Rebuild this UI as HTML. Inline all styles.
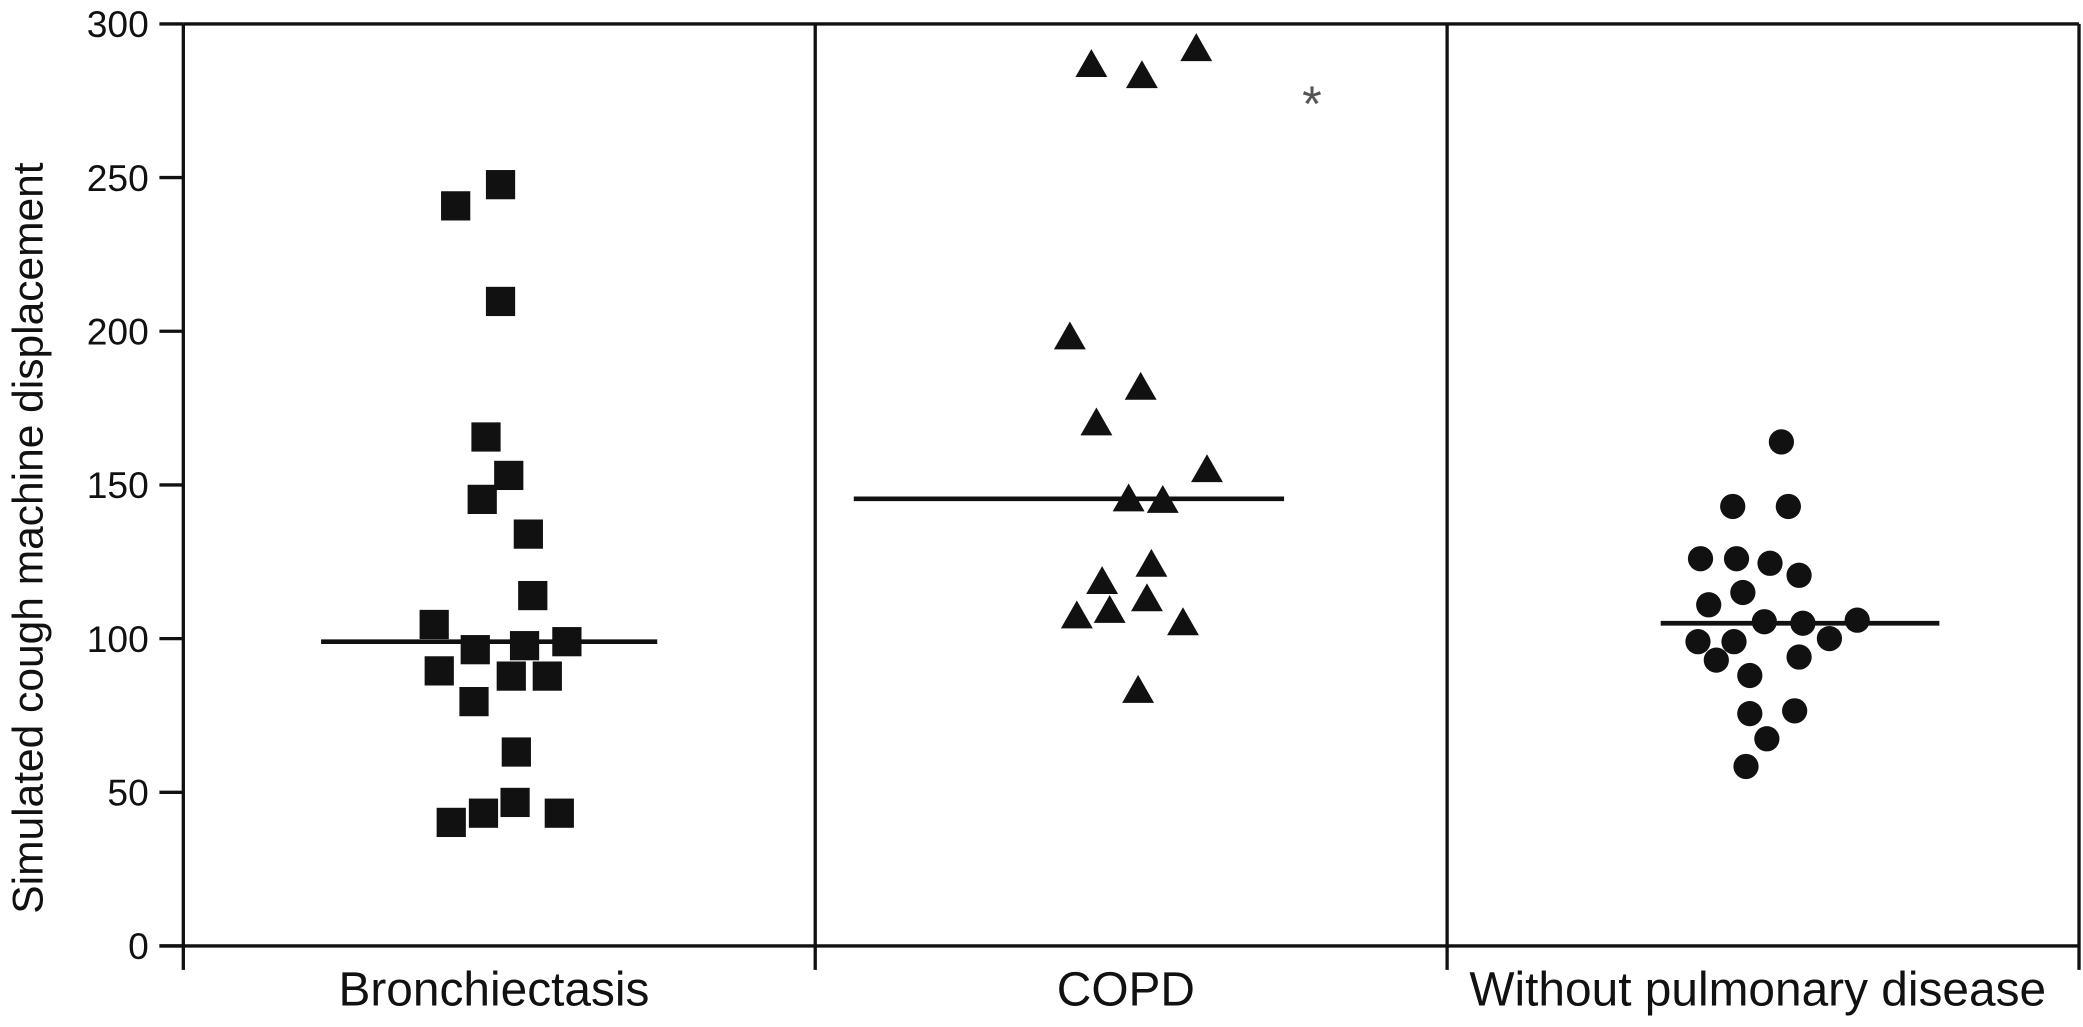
<!DOCTYPE html>
<html><head><meta charset="utf-8"><style>
html,body{margin:0;padding:0;background:#fff;}
svg{display:block;font-family:"Liberation Sans",sans-serif;}
</style></head><body>
<svg id="chart" width="2083" height="1027" viewBox="0 0 1568 773" preserveAspectRatio="none" xmlns="http://www.w3.org/2000/svg"></svg>
<script>
const categories = ["Bronchiectasis", "COPD", "Without pulmonary disease"];
const yTicks = [0, 50, 100, 150, 200, 250, 300];
const bronchValues = [240.8,247.7,209.7,165.6,153.1,145.3,134,114,104.6,96.4,97.7,99,89.5,87.8,87.8,79.5,63.1,40.2,43.2,46.7,43.2];
const bronchJitter = [-0.069,0.002,0.002,-0.021,0.015,-0.027,0.046,0.053,-0.103,-0.038,0.040,0.107,-0.095,0.019,0.076,-0.040,0.027,-0.076,-0.025,0.025,0.095];
const copdValues = [286.6,283,291.8,198,181.6,170,154.8,145.3,144.8,124,118.4,107.2,109,112.8,105,83];
const copdJitter = [-0.063,0.017,0.103,-0.097,0.015,-0.055,0.120,-0.004,0.050,0.032,-0.046,-0.086,-0.034,0.025,0.082,0.011];
const copdOutlier = [275.4];
const copdOutlierJitter = [0.286];
const withoutValues = [164,143,143,126,126,124.5,120.6,115,111,105.5,105,106,99,99,93,100,94,88,75.6,76.5,67.4,58.4];
const withoutJitter = [0.029,-0.048,0.040,-0.099,-0.042,0.011,0.057,-0.032,-0.086,0.002,0.063,0.149,-0.103,-0.046,-0.074,0.105,0.057,-0.021,-0.021,0.050,0.006,-0.027];
const medians = [99, 145.5, 105];
const medianStart = [-0.282, -0.439, -0.162];
const medianEnd = [0.250, 0.242, 0.279];

const NS = "http://www.w3.org/2000/svg";
const svg = document.getElementById("chart");
const X0 = 138, X1 = 1565, Y0 = 712, Y1 = 18;
const catW = (X1 - X0) / categories.length;
function yScale(v){ return Y0 - (v / 300) * (Y0 - Y1); }
function xCenter(i){ return X0 + catW * (i + 0.5); }
function xPos(i, j){ return xCenter(i) + j * catW; }
function mk(tag, attrs){ const e = document.createElementNS(NS, tag); for (const k in attrs) e.setAttribute(k, attrs[k]); svg.appendChild(e); return e; }

let e;
e = mk("line",{x1:X0-18,y1:Y0,x2:X1,y2:Y0,stroke:"#111","stroke-width":2.5});


e = mk("line",{x1:X0,y1:Y1,x2:X1,y2:Y1,stroke:"#111","stroke-width":2.5});


for (let i = 0; i <= categories.length; i++) {
  const x = X0 + catW * i;
  e = mk("line",{x1:x,y1:Y1,x2:x,y2:Y0+18,stroke:"#111","stroke-width":2.5});
  
  
}
yTicks.forEach(t => {
  const y = yScale(t);
  e = mk("line",{x1:X0-18,y1:y,x2:X0,y2:y,stroke:"#111","stroke-width":2.5});
  
  
  e = mk("text",{x:X0-26,y:y+10,"text-anchor":"end","font-size":28,fill:"#111"});
  e.textContent = t;
  
  
});
categories.forEach((c, i) => {
  e = mk("text",{x:xCenter(i)-4,y:757,"text-anchor":"middle","font-size":36,fill:"#111"});
  e.textContent = c;
  
  
});
e = mk("text",{x:0,y:0,transform:"translate(32,405) rotate(-90)","text-anchor":"middle","font-size":32,fill:"#111"});
e.textContent = "Simulated cough machine displacement";



bronchValues.forEach((v, k) => {
  const x = xPos(0, bronchJitter[k]), y = yScale(v);
  e = mk("rect",{x:x-11,y:y-11,width:22,height:22,fill:"#111"});
  
  
});
copdValues.forEach((v, k) => {
  const x = xPos(1, copdJitter[k]), y = yScale(v);
  e = mk("polygon",{points:`${x},${y-12} ${x+12},${y+9} ${x-12},${y+9}`,fill:"#111"});
  
  
});
copdOutlier.forEach((v, k) => {
  e = mk("text",{x:xPos(1, copdOutlierJitter[k]),y:yScale(v)+16,"text-anchor":"middle","font-size":38,fill:"#555"});
  e.textContent = "*";
  
  
});
withoutValues.forEach((v, k) => {
  const x = xPos(2, withoutJitter[k]), y = yScale(v);
  e = mk("circle",{cx:x,cy:y,r:9.5,fill:"#111"});
  
  
});
medians.forEach((m, i) => {
  const y = yScale(m);
  e = mk("line",{x1:xPos(i, medianStart[i]),y1:y,x2:xPos(i, medianEnd[i]),y2:y,stroke:"#111","stroke-width":3.5});
  
  
});
</script>
</body></html>
